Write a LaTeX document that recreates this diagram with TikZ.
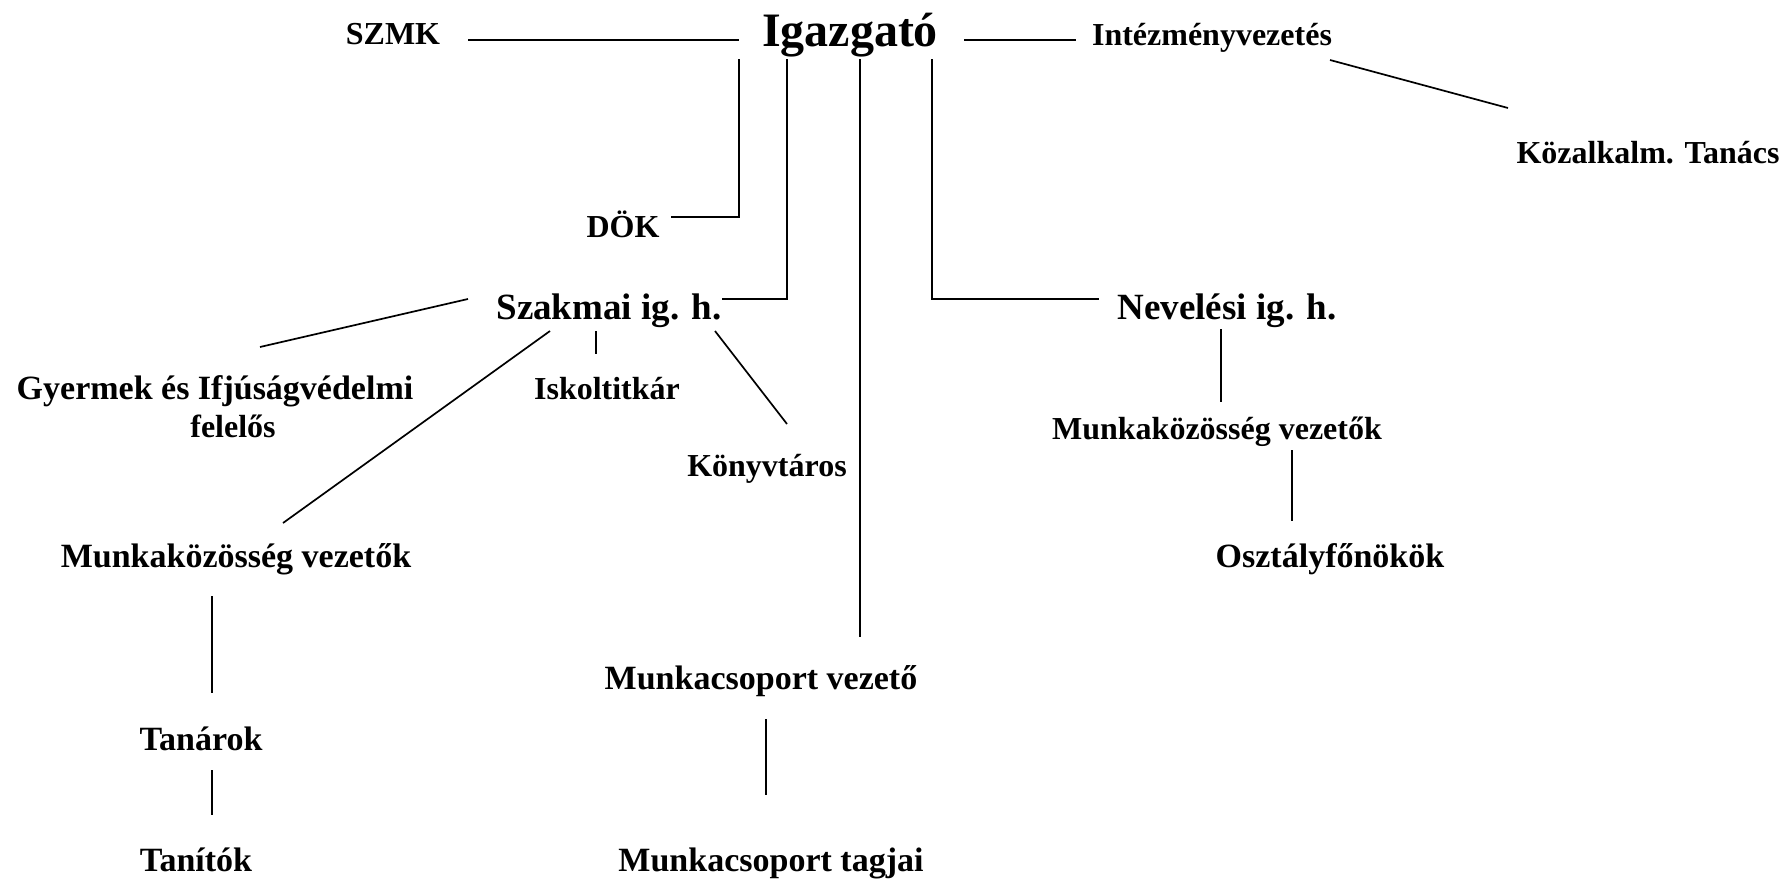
\documentclass[tikz,border=0pt]{standalone}
\usepackage{fontspec}
\setmainfont{Liberation Serif}
\begin{document}
\begin{tikzpicture}[x=1pt,y=-1pt,
  lbl/.style={anchor=base,inner sep=0pt,font=\bfseries\fontsize{32}{38}\selectfont},
  lblm/.style={anchor=base,inner sep=0pt,font=\bfseries\fontsize{34}{40}\selectfont},
  lblb/.style={anchor=base,inner sep=0pt,font=\bfseries\fontsize{37}{44}\selectfont},
  lblh/.style={anchor=base,inner sep=0pt,font=\bfseries\fontsize{48}{56}\selectfont},
  conn/.style={line width=1.7pt,black}]
\useasboundingbox (0,0) rectangle (1789,881);
% nodes
\node[lblh] (igaz) at (850,46) {Igazgató};
\node[lbl] (szmk) at (393,44) {SZMK};
\node[lbl] (intez) at (1212,45) {Intézményvezetés};
\node[lbl] (kozal) at (1648,163) {Közalkalm. Tanács};
\node[lbl] (dok) at (623,237) {DÖK};
\node[lblb] (szak) at (609,319) {Szakmai ig. h.};
\node[lblb] (nev) at (1227,319) {Nevelési ig. h.};
\node[lblm] (gyer) at (215,399) {Gyermek és Ifjúságvédelmi};
\node[lbl] (fel) at (233,437) {felelős};
\node[lbl] (isk) at (607,399) {Iskoltitkár};
\node[lbl] (konyv) at (767,476) {Könyvtáros};
\node[lblm] (mkl) at (236,567) {Munkaközösség vezetők};
\node[lbl] (mkr) at (1217,439) {Munkaközösség vezetők};
\node[lblm] (oszt) at (1330,567) {Osztályfőnökök};
\node[lblm] (mcsv) at (761,689) {Munkacsoport vezető};
\node[lblm] (tan) at (201,750) {Tanárok};
\node[lblm] (tanit) at (196,871) {Tanítók};
\node[lblm] (mcst) at (771,871) {Munkacsoport tagjai};
% connector end points
\coordinate (a1) at (468,40); \coordinate (a2) at (739,40);
\coordinate (b1) at (964,40); \coordinate (b2) at (1076,40);
\coordinate (c1) at (1330,60); \coordinate (c2) at (1508,108);
\coordinate (d1) at (739,59); \coordinate (d2) at (671,217);
\coordinate (e1) at (787,59); \coordinate (e2) at (722,299);
\coordinate (f1) at (860,59); \coordinate (f2) at (860,637);
\coordinate (g1) at (932,59); \coordinate (g2) at (1099,299);
\coordinate (h1) at (468,299); \coordinate (h2) at (260,347);
\coordinate (i1) at (596,331); \coordinate (i2) at (596,354);
\coordinate (j1) at (715,331); \coordinate (j2) at (787,424);
\coordinate (k1) at (550,331); \coordinate (k2) at (283,523);
\coordinate (l1) at (212,596); \coordinate (l2) at (212,693);
\coordinate (m1) at (212,770); \coordinate (m2) at (212,815);
\coordinate (n1) at (766,719); \coordinate (n2) at (766,795);
\coordinate (o1) at (1221,329); \coordinate (o2) at (1221,402);
\coordinate (p1) at (1292,450); \coordinate (p2) at (1292,521);
% connectors
\draw[conn] (a1) -- (a2);
\draw[conn] (b1) -- (b2);
\draw[conn] (c1) -- (c2);
\draw[conn] (d1) |- (d2);
\draw[conn] (e1) |- (e2);
\draw[conn] (f1) -- (f2);
\draw[conn] (g1) |- (g2);
\draw[conn] (h1) -- (h2);
\draw[conn] (i1) -- (i2);
\draw[conn] (j1) -- (j2);
\draw[conn] (k1) -- (k2);
\draw[conn] (l1) -- (l2);
\draw[conn] (m1) -- (m2);
\draw[conn] (n1) -- (n2);
\draw[conn] (o1) -- (o2);
\draw[conn] (p1) -- (p2);
\end{tikzpicture}
\end{document}
